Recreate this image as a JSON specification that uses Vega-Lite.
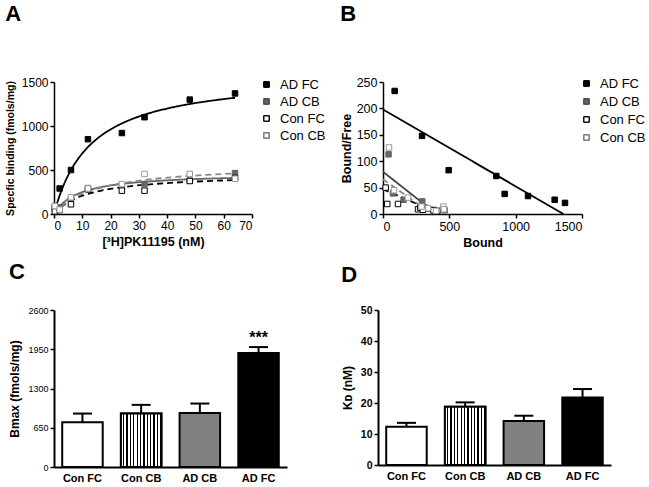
{
"$schema":"https://vega.github.io/schema/vega-lite/v6.json",
"background":"white",
"padding":{"left":5,"top":3,"right":0,"bottom":0},
"config":{
 "view":{"stroke":null},
 "font":"Liberation Sans",
 "axis":{"grid":false,"domainColor":"black","tickColor":"black","labelColor":"black","titleColor":"black","labelFont":"Liberation Sans","titleFont":"Liberation Sans","titleFontWeight":"bold","labelFontWeight":"normal","domainWidth":1.5,"tickWidth":1.5,"tickSize":4,"labelPadding":2,"labelOverlap":false},
 "title":{"fontSize":22,"font":"Liberation Sans","fontWeight":"bold","anchor":"start","frame":"bounds","color":"black"}
},
"datasets":{
 "ptsA":[
  {"series":"AD FC","conc":0.3,"sb":80},{"series":"AD FC","conc":2,"sb":290},{"series":"AD FC","conc":6,"sb":500},{"series":"AD FC","conc":12,"sb":850},{"series":"AD FC","conc":24,"sb":920},{"series":"AD FC","conc":32,"sb":1100},{"series":"AD FC","conc":48,"sb":1300},{"series":"AD FC","conc":64,"sb":1370},
  {"series":"AD CB","conc":0.3,"sb":60},{"series":"AD CB","conc":2,"sb":75},{"series":"AD CB","conc":6,"sb":165},{"series":"AD CB","conc":12,"sb":295},{"series":"AD CB","conc":24,"sb":310},{"series":"AD CB","conc":32,"sb":340},{"series":"AD CB","conc":48,"sb":380},{"series":"AD CB","conc":64,"sb":465},
  {"series":"Con FC","conc":0.3,"sb":30},{"series":"Con FC","conc":2,"sb":45},{"series":"Con FC","conc":6,"sb":110},{"series":"Con FC","conc":12,"sb":280},{"series":"Con FC","conc":24,"sb":265},{"series":"Con FC","conc":32,"sb":265},{"series":"Con FC","conc":48,"sb":375},{"series":"Con FC","conc":64,"sb":410},
  {"series":"Con CB","conc":0.3,"sb":90},{"series":"Con CB","conc":2,"sb":50},{"series":"Con CB","conc":6,"sb":190},{"series":"Con CB","conc":12,"sb":290},{"series":"Con CB","conc":24,"sb":340},{"series":"Con CB","conc":32,"sb":455},{"series":"Con CB","conc":48,"sb":455},{"series":"Con CB","conc":64,"sb":400}
 ],
 "curveA":[
  {"series":"AD FC","conc":0,"sb":0},{"series":"AD FC","conc":1,"sb":112.8},{"series":"AD FC","conc":2,"sb":210.7},{"series":"AD FC","conc":3,"sb":296.5},{"series":"AD FC","conc":4,"sb":372.2},{"series":"AD FC","conc":6,"sb":499.8},{"series":"AD FC","conc":8,"sb":603.2},{"series":"AD FC","conc":10,"sb":688.7},{"series":"AD FC","conc":12,"sb":760.6},{"series":"AD FC","conc":16,"sb":874.8},{"series":"AD FC","conc":20,"sb":961.3},{"series":"AD FC","conc":24,"sb":1029.2},{"series":"AD FC","conc":28,"sb":1083.9},{"series":"AD FC","conc":32,"sb":1128.9},{"series":"AD FC","conc":40,"sb":1198.5},{"series":"AD FC","conc":48,"sb":1249.9},{"series":"AD FC","conc":56,"sb":1289.4},{"series":"AD FC","conc":64,"sb":1320.7},
  {"series":"AD CB","conc":0,"sb":0},{"series":"AD CB","conc":1,"sb":48},{"series":"AD CB","conc":2,"sb":87.1},{"series":"AD CB","conc":3,"sb":119.5},{"series":"AD CB","conc":4,"sb":146.8},{"series":"AD CB","conc":6,"sb":190.2},{"series":"AD CB","conc":8,"sb":223.2},{"series":"AD CB","conc":10,"sb":249.2},{"series":"AD CB","conc":12,"sb":270.1},{"series":"AD CB","conc":16,"sb":301.8},{"series":"AD CB","conc":20,"sb":324.7},{"series":"AD CB","conc":24,"sb":342.0},{"series":"AD CB","conc":28,"sb":355.5},{"series":"AD CB","conc":32,"sb":366.4},{"series":"AD CB","conc":40,"sb":382.7},{"series":"AD CB","conc":48,"sb":394.5},{"series":"AD CB","conc":56,"sb":403.3},{"series":"AD CB","conc":64,"sb":410.2},
  {"series":"Con FC","conc":0,"sb":0},{"series":"Con FC","conc":1,"sb":35.2},{"series":"Con FC","conc":2,"sb":65.3},{"series":"Con FC","conc":3,"sb":91.4},{"series":"Con FC","conc":4,"sb":114.3},{"series":"Con FC","conc":6,"sb":152.3},{"series":"Con FC","conc":8,"sb":182.8},{"series":"Con FC","conc":10,"sb":207.7},{"series":"Con FC","conc":12,"sb":228.5},{"series":"Con FC","conc":16,"sb":261.1},{"series":"Con FC","conc":20,"sb":285.6},{"series":"Con FC","conc":24,"sb":304.7},{"series":"Con FC","conc":28,"sb":319.9},{"series":"Con FC","conc":32,"sb":332.4},{"series":"Con FC","conc":40,"sb":351.5},{"series":"Con FC","conc":48,"sb":365.6},{"series":"Con FC","conc":56,"sb":376.4},{"series":"Con FC","conc":64,"sb":384.9},
  {"series":"Con CB","conc":0,"sb":0},{"series":"Con CB","conc":1,"sb":35.8},{"series":"Con CB","conc":2,"sb":67.3},{"series":"Con CB","conc":3,"sb":95.2},{"series":"Con CB","conc":4,"sb":120.3},{"series":"Con CB","conc":6,"sb":163.1},{"series":"Con CB","conc":8,"sb":198.4},{"series":"Con CB","conc":10,"sb":228.1},{"series":"Con CB","conc":12,"sb":253.2},{"series":"Con CB","conc":16,"sb":293.8},{"series":"Con CB","conc":20,"sb":325.2},{"series":"Con CB","conc":24,"sb":350.2},{"series":"Con CB","conc":28,"sb":370.3},{"series":"Con CB","conc":32,"sb":387.1},{"series":"Con CB","conc":40,"sb":413.2},{"series":"Con CB","conc":48,"sb":432.8},{"series":"Con CB","conc":56,"sb":447.9},{"series":"Con CB","conc":64,"sb":460.0}
 ],
 "ptsB":[
  {"series":"AD FC","bound":88,"bf":233},{"series":"AD FC","bound":294,"bf":148},{"series":"AD FC","bound":495,"bf":83},{"series":"AD FC","bound":854,"bf":72},{"series":"AD FC","bound":917,"bf":38},{"series":"AD FC","bound":1093,"bf":34},{"series":"AD FC","bound":1294,"bf":27},{"series":"AD FC","bound":1372,"bf":21},
  {"series":"AD CB","bound":42,"bf":113},{"series":"AD CB","bound":75,"bf":39},{"series":"AD CB","bound":155,"bf":27},{"series":"AD CB","bound":296,"bf":24},{"series":"AD CB","bound":310,"bf":13},{"series":"AD CB","bound":340,"bf":10},{"series":"AD CB","bound":380,"bf":8},{"series":"AD CB","bound":465,"bf":7},
  {"series":"Con FC","bound":20,"bf":50},{"series":"Con FC","bound":32,"bf":19},{"series":"Con FC","bound":113,"bf":19},{"series":"Con FC","bound":264,"bf":9},{"series":"Con FC","bound":280,"bf":12},{"series":"Con FC","bound":300,"bf":8},{"series":"Con FC","bound":380,"bf":7},{"series":"Con FC","bound":410,"bf":6},
  {"series":"Con CB","bound":45,"bf":126},{"series":"Con CB","bound":83,"bf":45},{"series":"Con CB","bound":188,"bf":31},{"series":"Con CB","bound":290,"bf":14},{"series":"Con CB","bound":340,"bf":11},{"series":"Con CB","bound":455,"bf":14},{"series":"Con CB","bound":460,"bf":9},{"series":"Con CB","bound":400,"bf":6}
 ],
 "linesB":[
  {"series":"AD FC","bound":0,"bf":198},{"series":"AD FC","bound":1360,"bf":0},
  {"series":"AD CB","bound":0,"bf":80},{"series":"AD CB","bound":404,"bf":0},
  {"series":"Con FC","bound":0,"bf":47},{"series":"Con FC","bound":430,"bf":0},
  {"series":"Con CB","bound":0,"bf":66},{"series":"Con CB","bound":370,"bf":0}
 ],
 "bars":[
  {"group":"Con FC","bmax":741,"bmax_hi":885,"kd":12.3,"kd_hi":13.6,"sig":""},
  {"group":"Con CB","bmax":885,"bmax_hi":1029,"kd":18.8,"kd_hi":20.2,"sig":""},
  {"group":"AD CB","bmax":896,"bmax_hi":1051,"kd":14.2,"kd_hi":15.9,"sig":""},
  {"group":"AD FC","bmax":1886,"bmax_hi":1986,"kd":21.8,"kd_hi":24.5,"sig":"***"}
 ]
},
"spacing":12,
"resolve":{"scale":{"fill":"independent","stroke":"independent","color":"independent","strokeDash":"independent"},"legend":{"fill":"independent","stroke":"independent","color":"independent","strokeDash":"independent"}},
"vconcat":[
 {"spacing":14,
  "resolve":{"scale":{"fill":"independent","stroke":"independent","color":"independent","strokeDash":"independent"},"legend":{"fill":"independent","stroke":"independent","color":"independent","strokeDash":"independent"}},
  "hconcat":[
  {"width":198,"height":132,"title":{"text":"A","offset":50},
   "layer":[
    {"data":{"name":"curveA"},"mark":{"type":"line","interpolate":"monotone","strokeWidth":1.8},
     "encoding":{
      "x":{"field":"conc","type":"quantitative","scale":{"domain":[0,70],"nice":false},"axis":{"title":"[³H]PK11195 (nM)","values":[0,10,20,30,40,50,60,70],"tickCount":20,"format":"d","labelOverlap":false,"labelFontSize":12,"titleFontSize":12.5,"titlePadding":4}},
      "y":{"field":"sb","type":"quantitative","scale":{"domain":[0,1500],"nice":false},"axis":{"title":"Specfic binding (fmols/mg)","values":[0,500,1000,1500],"tickCount":20,"format":"d","labelOverlap":false,"labelFontSize":12,"titleFontSize":10.5,"titlePadding":6}},
      "color":{"field":"series","type":"nominal","scale":{"range":["#666666","black","#888888","black"]},"legend":null},
      "strokeDash":{"field":"series","type":"nominal","scale":{"range":[[1,0],[1,0],[6,4],[6,4]]},"legend":null}
     }},
    {"data":{"name":"ptsA"},"mark":{"type":"point","shape":"square","filled":true,"size":30,"strokeWidth":1,"opacity":1},
     "encoding":{
      "x":{"field":"conc","type":"quantitative"},
      "y":{"field":"sb","type":"quantitative"},
      "fill":{"field":"series","type":"nominal","scale":{"domain":["AD FC","AD CB","Con FC","Con CB"],"range":["black","#666666","white","white"]},
        "legend":{"title":null,"orient":"none","legendX":206,"legendY":-4,"symbolSize":30,"labelFontSize":13,"labelFont":"Liberation Sans","labelColor":"black","rowPadding":3,"labelOffset":7,"symbolStrokeWidth":1,"symbolStrokeColor":"black"}},
      "stroke":{"field":"series","type":"nominal","scale":{"domain":["AD FC","AD CB","Con FC","Con CB","none"],"range":["black","#666666","black","#999999","transparent"]},
        "legend":{"title":null,"values":["AD FC","AD CB","Con FC","Con CB"],"orient":"none","legendX":206,"legendY":-4,"symbolSize":30,"labelFontSize":13,"labelFont":"Liberation Sans","labelOpacity":0,"rowPadding":3,"labelOffset":7,"symbolStrokeWidth":1,"symbolFillColor":"transparent"}}
     }}
   ]},
  {"width":199,"height":132,"title":{"text":"B","offset":50},
   "layer":[
    {"data":{"name":"linesB"},"mark":{"type":"line","strokeWidth":1.8},
     "encoding":{
      "x":{"field":"bound","type":"quantitative","scale":{"domain":[0,1500],"nice":false},"axis":{"title":"Bound","values":[0,500,1000,1500],"tickCount":20,"format":"d","labelOverlap":false,"labelFontSize":12.5,"titleFontSize":12.5,"titlePadding":4}},
      "y":{"field":"bf","type":"quantitative","scale":{"domain":[0,250],"nice":false},"axis":{"title":"Bound/Free","values":[0,50,100,150,200,250],"tickCount":20,"format":"d","labelOverlap":false,"labelFontSize":12.5,"titleFontSize":12.5,"titlePadding":3}},
      "color":{"field":"series","type":"nominal","scale":{"range":["#444444","black","#888888","black"]},"legend":null},
      "strokeDash":{"field":"series","type":"nominal","scale":{"range":[[1,0],[1,0],[6,4],[6,4]]},"legend":null}
     }},
    {"data":{"name":"ptsB"},"mark":{"type":"point","shape":"square","filled":true,"size":30,"strokeWidth":1,"opacity":1},
     "encoding":{
      "x":{"field":"bound","type":"quantitative"},
      "y":{"field":"bf","type":"quantitative"},
      "fill":{"field":"series","type":"nominal","scale":{"domain":["AD FC","AD CB","Con FC","Con CB"],"range":["black","#666666","white","white"]},
        "legend":{"title":null,"orient":"none","legendX":197,"legendY":-5,"symbolSize":30,"labelFontSize":13,"labelFont":"Liberation Sans","labelColor":"black","rowPadding":4,"labelOffset":7,"symbolStrokeWidth":1,"symbolStrokeColor":"black"}},
      "stroke":{"field":"series","type":"nominal","scale":{"domain":["AD FC","AD CB","Con FC","Con CB","none"],"range":["black","#666666","black","#999999","transparent"]},
        "legend":{"title":null,"values":["AD FC","AD CB","Con FC","Con CB"],"orient":"none","legendX":197,"legendY":-5,"symbolSize":30,"labelFontSize":13,"labelFont":"Liberation Sans","labelOpacity":0,"rowPadding":4,"labelOffset":7,"symbolStrokeWidth":1,"symbolFillColor":"transparent"}}
     }}
   ]}
 ]},
 {"spacing":54,
  "resolve":{"scale":{"fill":"independent","stroke":"independent","color":"independent","strokeDash":"independent"},"legend":{"fill":"independent","stroke":"independent","color":"independent","strokeDash":"independent"}},
  "hconcat":[
  {"width":233,"height":157,"title":{"text":"C","offset":22},"data":{"name":"bars"},
   "encoding":{
    "x":{"field":"group","type":"nominal","sort":["Con FC","Con CB","AD CB","AD FC"],"scale":{"paddingInner":0.31,"paddingOuter":0.14},"axis":{"title":null,"labelAngle":0,"ticks":false,"labelFontSize":11,"labelFontWeight":"bold","labelPadding":5,"domainWidth":2}}
   },
   "layer":[
    {"mark":{"type":"bar","stroke":"black","strokeWidth":2},
     "encoding":{
      "y":{"field":"bmax","type":"quantitative","scale":{"domain":[0,2600],"nice":false},"axis":{"title":"Bmax (fmols/mg)","values":[0,650,1300,1950,2600],"tickCount":20,"format":"d","labelOverlap":false,"labelFontSize":9,"titleFontSize":12,"domainWidth":2,"tickWidth":1.5,"titlePadding":6}},
      "fill":{"field":"group","type":"nominal","scale":{"domain":["Con FC","Con CB","AD CB","AD FC"],"range":["white","white","#808080","black"]},"legend":null}
     }},
    {"transform":[{"filter":"datum.group === 'Con CB'"}],
     "mark":{"type":"bar","stroke":"black","strokeWidth":2,"fill":{"gradient":"linear","x1":0,"y1":0,"x2":1,"y2":0,"stops":[
      {"offset":0,"color":"white"},{"offset":0.053,"color":"white"},{"offset":0.053,"color":"black"},{"offset":0.083,"color":"black"},
      {"offset":0.083,"color":"white"},{"offset":0.136,"color":"white"},{"offset":0.136,"color":"black"},{"offset":0.167,"color":"black"},
      {"offset":0.167,"color":"white"},{"offset":0.22,"color":"white"},{"offset":0.22,"color":"black"},{"offset":0.25,"color":"black"},
      {"offset":0.25,"color":"white"},{"offset":0.303,"color":"white"},{"offset":0.303,"color":"black"},{"offset":0.333,"color":"black"},
      {"offset":0.333,"color":"white"},{"offset":0.386,"color":"white"},{"offset":0.386,"color":"black"},{"offset":0.417,"color":"black"},
      {"offset":0.417,"color":"white"},{"offset":0.47,"color":"white"},{"offset":0.47,"color":"black"},{"offset":0.5,"color":"black"},
      {"offset":0.5,"color":"white"},{"offset":0.553,"color":"white"},{"offset":0.553,"color":"black"},{"offset":0.583,"color":"black"},
      {"offset":0.583,"color":"white"},{"offset":0.636,"color":"white"},{"offset":0.636,"color":"black"},{"offset":0.667,"color":"black"},
      {"offset":0.667,"color":"white"},{"offset":0.72,"color":"white"},{"offset":0.72,"color":"black"},{"offset":0.75,"color":"black"},
      {"offset":0.75,"color":"white"},{"offset":0.803,"color":"white"},{"offset":0.803,"color":"black"},{"offset":0.833,"color":"black"},
      {"offset":0.833,"color":"white"},{"offset":0.886,"color":"white"},{"offset":0.886,"color":"black"},{"offset":0.917,"color":"black"},
      {"offset":0.917,"color":"white"},{"offset":0.97,"color":"white"},{"offset":0.97,"color":"black"},{"offset":1,"color":"black"}]}},
     "encoding":{"y":{"field":"bmax","type":"quantitative"}}},
    {"mark":{"type":"rule","color":"black","strokeWidth":2},
     "encoding":{"y":{"field":"bmax","type":"quantitative"},"y2":{"field":"bmax_hi"}}},
    {"mark":{"type":"tick","color":"black","size":19,"thickness":2,"opacity":1},
     "encoding":{"y":{"field":"bmax_hi","type":"quantitative"}}},
    {"mark":{"type":"text","fontSize":16,"fontWeight":"bold","baseline":"alphabetic","dy":-4,"color":"black"},
     "encoding":{"y":{"field":"bmax_hi","type":"quantitative"},"text":{"field":"sig"}}}
   ]},
  {"width":233,"height":155,"title":{"text":"D","offset":18},"data":{"name":"bars"},
   "encoding":{
    "x":{"field":"group","type":"nominal","sort":["Con FC","Con CB","AD CB","AD FC"],"scale":{"paddingInner":0.31,"paddingOuter":0.14},"axis":{"title":null,"labelAngle":0,"ticks":false,"labelFontSize":11,"labelFontWeight":"bold","labelPadding":5,"domainWidth":2}}
   },
   "layer":[
    {"mark":{"type":"bar","stroke":"black","strokeWidth":2},
     "encoding":{
      "y":{"field":"kd","type":"quantitative","scale":{"domain":[0,50],"nice":false},"axis":{"title":"Kᴅ (nM)","values":[0,10,20,30,40,50],"tickCount":20,"format":"d","labelOverlap":false,"labelFontSize":10.5,"labelFontWeight":"bold","titleFontSize":12,"domainWidth":2,"tickWidth":1.5,"titlePadding":6}},
      "fill":{"field":"group","type":"nominal","scale":{"domain":["Con FC","Con CB","AD CB","AD FC"],"range":["white","white","#808080","black"]},"legend":null}
     }},
    {"transform":[{"filter":"datum.group === 'Con CB'"}],
     "mark":{"type":"bar","stroke":"black","strokeWidth":2,"fill":{"gradient":"linear","x1":0,"y1":0,"x2":1,"y2":0,"stops":[
      {"offset":0,"color":"white"},{"offset":0.053,"color":"white"},{"offset":0.053,"color":"black"},{"offset":0.083,"color":"black"},
      {"offset":0.083,"color":"white"},{"offset":0.136,"color":"white"},{"offset":0.136,"color":"black"},{"offset":0.167,"color":"black"},
      {"offset":0.167,"color":"white"},{"offset":0.22,"color":"white"},{"offset":0.22,"color":"black"},{"offset":0.25,"color":"black"},
      {"offset":0.25,"color":"white"},{"offset":0.303,"color":"white"},{"offset":0.303,"color":"black"},{"offset":0.333,"color":"black"},
      {"offset":0.333,"color":"white"},{"offset":0.386,"color":"white"},{"offset":0.386,"color":"black"},{"offset":0.417,"color":"black"},
      {"offset":0.417,"color":"white"},{"offset":0.47,"color":"white"},{"offset":0.47,"color":"black"},{"offset":0.5,"color":"black"},
      {"offset":0.5,"color":"white"},{"offset":0.553,"color":"white"},{"offset":0.553,"color":"black"},{"offset":0.583,"color":"black"},
      {"offset":0.583,"color":"white"},{"offset":0.636,"color":"white"},{"offset":0.636,"color":"black"},{"offset":0.667,"color":"black"},
      {"offset":0.667,"color":"white"},{"offset":0.72,"color":"white"},{"offset":0.72,"color":"black"},{"offset":0.75,"color":"black"},
      {"offset":0.75,"color":"white"},{"offset":0.803,"color":"white"},{"offset":0.803,"color":"black"},{"offset":0.833,"color":"black"},
      {"offset":0.833,"color":"white"},{"offset":0.886,"color":"white"},{"offset":0.886,"color":"black"},{"offset":0.917,"color":"black"},
      {"offset":0.917,"color":"white"},{"offset":0.97,"color":"white"},{"offset":0.97,"color":"black"},{"offset":1,"color":"black"}]}},
     "encoding":{"y":{"field":"kd","type":"quantitative"}}},
    {"mark":{"type":"rule","color":"black","strokeWidth":2},
     "encoding":{"y":{"field":"kd","type":"quantitative"},"y2":{"field":"kd_hi"}}},
    {"mark":{"type":"tick","color":"black","size":19,"thickness":2,"opacity":1},
     "encoding":{"y":{"field":"kd_hi","type":"quantitative"}}}
   ]}
 ]}
]
}
